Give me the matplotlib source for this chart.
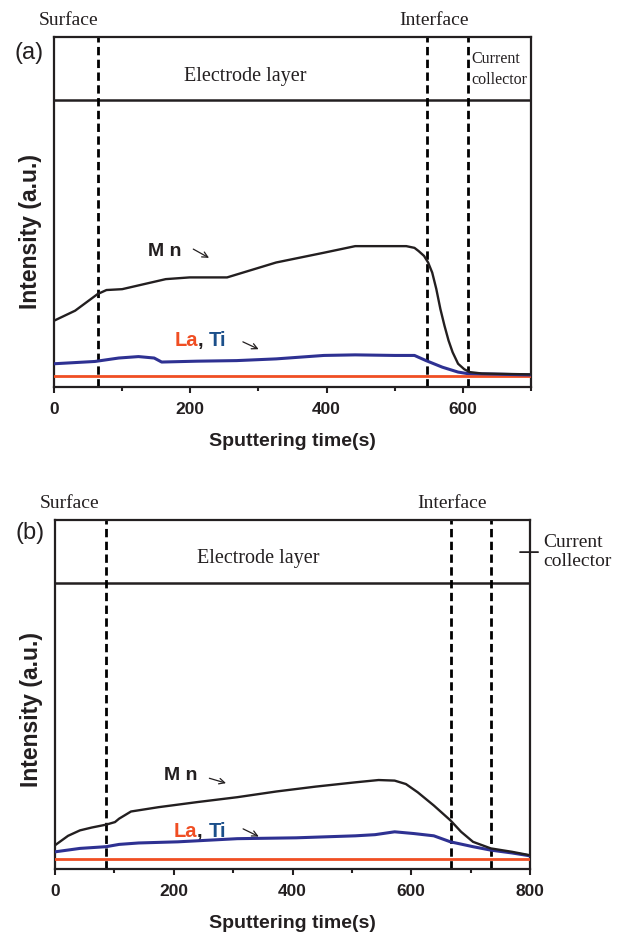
import matplotlib
matplotlib.use("Agg")
import matplotlib.pyplot as plt
from matplotlib.ticker import MultipleLocator

# ---------------- data ----------------
# panel (a)
mn_a_t = [0, 31, 64, 77, 100, 164, 199, 254, 326, 396, 442, 471, 517, 529, 535, 543,
          549, 555, 561, 567, 573, 579, 585, 593, 602, 610, 628, 700]
mn_a_v = [23.1, 26.6, 32.4, 33.8, 34.1, 37.6, 38.2, 38.2, 43.4, 46.8, 49.1, 49.1, 49.1, 48.5, 47.4, 45.7,
          43.4, 39.9, 34.2, 27.2, 21.4, 16.2, 12.1, 8.1, 6.2, 5.2, 4.7, 4.4]
ti_a_t = [0, 60, 95, 124, 147, 158, 210, 268, 326, 396, 442, 500, 529, 546, 570, 593, 606, 700]
ti_a_v = [8.1, 8.9, 10.1, 10.6, 10.1, 8.7, 9.0, 9.2, 9.8, 11.0, 11.2, 11.0, 11.0, 9.2, 6.9, 5.2, 4.7, 4.2]
la_a_t = [0, 700]
la_a_v = [3.7, 3.7]
bounds_a = [64, 548, 607]

# panel (b)
mn_b_t = [0, 22, 42, 62, 86, 101, 108, 128, 174, 240, 307, 373, 439, 506, 545, 572, 591,
          611, 638, 666, 684, 704, 734, 770, 800]
mn_b_v = [8.3, 11.6, 13.5, 14.5, 15.5, 16.4, 17.6, 20.1, 21.6, 23.4, 25.1, 27.1, 28.8, 30.3, 31.1, 30.9, 29.7,
          26.8, 22.2, 17.0, 13.0, 9.5, 7.2, 6.0, 4.8]
ti_b_t = [0, 42, 86, 108, 141, 207, 307, 406, 506, 539, 572, 604, 638, 666, 704, 734, 770, 800]
ti_b_v = [6.0, 7.2, 7.8, 8.6, 9.1, 9.5, 10.6, 10.9, 11.6, 12.0, 13.0, 12.4, 11.6, 9.5, 7.8, 6.6, 5.6, 4.6]
la_b_t = [0, 800]
la_b_v = [3.6, 3.6]
bounds_b = [86, 667, 734]

xticks_a = [0, 200, 400, 600]
xticks_b = [0, 200, 400, 600, 800]

# ---------------- style ----------------
BLACK = "#231f20"
BLUE = "#2e3192"
TI_TXT = "#1b4f8a"
RED = "#f04e23"
SANS = ["Liberation Sans", "DejaVu Sans"]
SERIF = ["Liberation Serif", "DejaVu Serif"]

fig = plt.figure(figsize=(6.19, 9.43), dpi=100)

YTOP = 122.0


def panel(rect, xmax, xticks, mn_t, mn_v, ti_t, ti_v, la_t, la_v, bounds, ylab_y):
    ax = fig.add_axes(rect)
    ax.set_xlim(0, xmax)
    ax.set_ylim(0, YTOP)
    for s in ax.spines.values():
        s.set_linewidth(1.6)
        s.set_color(BLACK)
    ax.set_yticks([])
    ax.set_xticks(xticks)
    ax.xaxis.set_minor_locator(MultipleLocator(100))
    ax.tick_params(axis="x", which="major", direction="out", length=4.5, width=1.5,
                   pad=6, labelsize=12.5, colors=BLACK)
    ax.tick_params(axis="x", which="minor", direction="out", length=3, width=1.5, colors=BLACK)
    for lab in ax.get_xticklabels():
        lab.set_fontfamily(SANS)
        lab.set_fontweight("bold")
    ax.axhline(100, color=BLACK, lw=1.8)
    for b in bounds:
        ax.axvline(b, color="black", lw=2.0, ls=(0, (3.0, 1.6)))
    ax.plot(la_t, la_v, color=RED, lw=2.0, zorder=3)
    ax.plot(ti_t, ti_v, color=BLUE, lw=2.2, zorder=4)
    ax.plot(mn_t, mn_v, color=BLACK, lw=1.7, zorder=5)
    ax.set_xlabel("Sputtering time(s)", fontsize=14, fontweight="bold", family=SANS,
                  color=BLACK, labelpad=12)
    ax.set_ylabel("Intensity (a.u.)", fontsize=16.5, fontweight="bold", family=SANS,
                  color=BLACK)
    ax.yaxis.set_label_coords(-0.025, ylab_y)
    return ax


def labels(ax, mn_xy, mn_arrow, lati_xy, lati_arrow):
    tr = ax.transAxes
    ax.text(mn_xy[0], mn_xy[1], "M n", transform=tr, fontsize=14, family=SANS, fontweight="bold",
            ha="left", va="center", color=BLACK)
    ax.annotate("", xy=mn_arrow[1], xytext=mn_arrow[0], xycoords=tr, textcoords=tr,
                arrowprops=dict(arrowstyle="->", lw=0.9, color=BLACK, shrinkA=0, shrinkB=0))
    t1 = ax.text(lati_xy[0], lati_xy[1], "La", transform=tr, fontsize=14.5, family=SANS,
                 fontweight="bold", ha="left", va="center", color=RED)
    t2 = ax.annotate(", ", xy=(1, 0), xycoords=t1, fontsize=14.5, family=SANS, fontweight="bold",
                     ha="left", va="bottom", color=BLACK)
    ax.annotate("Ti", xy=(1, 0), xycoords=t2, fontsize=14.5, family=SANS, fontweight="bold",
                ha="left", va="bottom", color=TI_TXT)
    ax.annotate("", xy=lati_arrow[1], xytext=lati_arrow[0], xycoords=tr, textcoords=tr,
                arrowprops=dict(arrowstyle="->", lw=0.9, color=BLACK, shrinkA=0, shrinkB=0))


# ---------------- panel (a) ----------------
axa = panel([54 / 619, 1 - 387 / 943, 477 / 619, 350 / 943], 700, xticks_a,
            mn_a_t, mn_a_v, ti_a_t, ti_a_v, la_a_t, la_a_v, bounds_a, 0.443)
tr = axa.transAxes
axa.text(-0.052, 0.955, "(a)", transform=tr, fontsize=17, family=SANS, ha="center", va="center", color=BLACK)
axa.text(0.03, 1.048, "Surface", transform=tr, fontsize=14, family=SERIF, ha="center", va="center", color=BLACK)
axa.text(0.797, 1.048, "Interface", transform=tr, fontsize=14, family=SERIF, ha="center", va="center", color=BLACK)
axa.text(0.40, 0.887, "Electrode layer", transform=tr, fontsize=14.5, family=SERIF, ha="center", va="center", color=BLACK)
axa.text(0.874, 0.937, "Current", transform=tr, fontsize=11.5, family=SERIF, ha="left", va="center", color=BLACK)
axa.text(0.874, 0.877, "collector", transform=tr, fontsize=11.5, family=SERIF, ha="left", va="center", color=BLACK)
labels(axa, (0.197, 0.386), ((0.292, 0.394), (0.325, 0.369)),
       (0.252, 0.134), ((0.396, 0.129), (0.429, 0.108)))

# ---------------- panel (b) ----------------
axb = panel([55 / 619, 1 - 869 / 943, 475 / 619, 349 / 943], 800, xticks_b,
            mn_b_t, mn_b_v, ti_b_t, ti_b_v, la_b_t, la_b_v, bounds_b, 0.456)
tr = axb.transAxes
axb.text(-0.052, 0.963, "(b)", transform=tr, fontsize=17, family=SANS, ha="center", va="center", color=BLACK)
axb.text(0.031, 1.048, "Surface", transform=tr, fontsize=14, family=SERIF, ha="center", va="center", color=BLACK)
axb.text(0.836, 1.048, "Interface", transform=tr, fontsize=14, family=SERIF, ha="center", va="center", color=BLACK)
axb.text(0.428, 0.890, "Electrode layer", transform=tr, fontsize=14.5, family=SERIF, ha="center", va="center", color=BLACK)
axb.annotate("", xy=(1.017, 0.908), xytext=(0.979, 0.908), xycoords=tr, textcoords=tr,
             arrowprops=dict(arrowstyle="-", lw=1.3, color=BLACK, shrinkA=0, shrinkB=0))
axb.text(1.027, 0.935, "Current", transform=tr, fontsize=14, family=SERIF, ha="left", va="center", color=BLACK)
axb.text(1.027, 0.880, "collector", transform=tr, fontsize=14, family=SERIF, ha="left", va="center", color=BLACK)
labels(axb, (0.229, 0.269), ((0.325, 0.260), (0.36, 0.246)),
       (0.25, 0.107), ((0.396, 0.115), (0.429, 0.093)))

fig.savefig("out.png", dpi=100, facecolor="white")
